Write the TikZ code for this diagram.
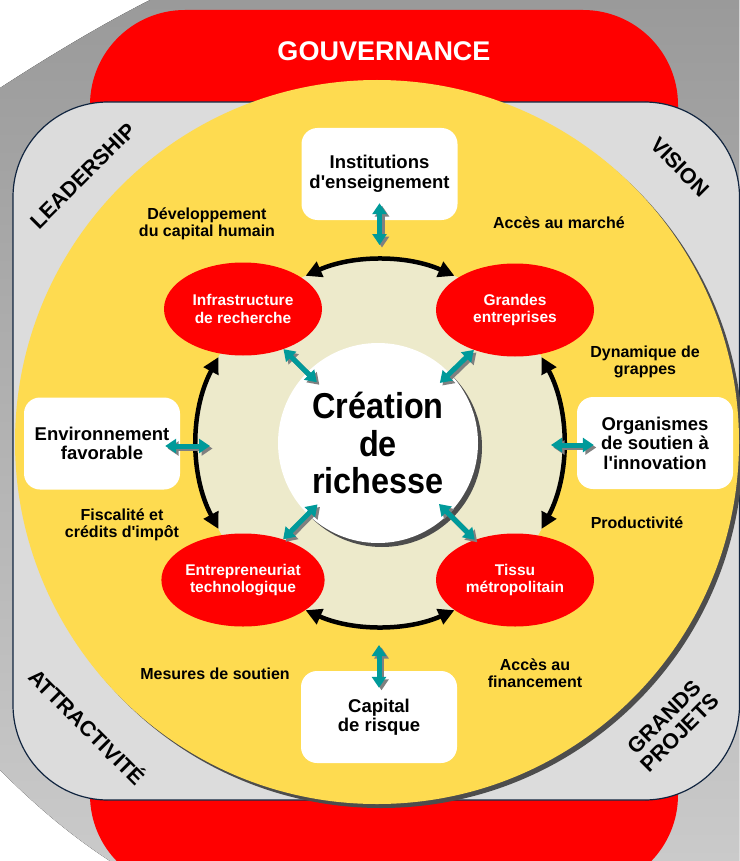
\documentclass[tikz,border=0pt]{standalone}
\usepackage{fontspec}
\setmainfont{Liberation Sans}[Ligatures=TeXOff]
\newfontfamily\condfont{Liberation Sans}[FakeStretch=0.9]
\usetikzlibrary{arrows.meta,shapes.geometric,calc}
\definecolor{bgA}{HTML}{9A9A9A}
\definecolor{bgB}{HTML}{CACACA}
\definecolor{gred}{HTML}{FF0000}
\definecolor{lgray}{HTML}{DCDCDC}
\definecolor{navy}{HTML}{10243F}
\definecolor{gold}{HTML}{FEDB50}
\definecolor{beige}{HTML}{EDEACB}
\definecolor{shgray}{HTML}{4D4D4D}
\definecolor{tealc}{HTML}{009A9A}
\definecolor{tshadow}{HTML}{808080}
\newcommand\tealline[3]{\draw[tshad,#1] #2 -- #3; \draw[tarrow,#1] #2 -- #3;}
\begin{document}
\begin{tikzpicture}[x=1pt,y=-1pt,
  ell/.style={ellipse, fill=gred, minimum width=158pt, minimum height=93pt, inner sep=0pt, text=white, align=center, font=\fontsize{15.5}{17.5}\selectfont\bfseries},
  wbox/.style={rectangle, rounded corners=16pt, fill=white, minimum width=156pt, minimum height=92pt, inner sep=0pt, align=center, font=\fontsize{18.5}{19.5}\selectfont\bfseries},
  lab/.style={align=center, font=\fontsize{16}{16.5}\selectfont\bfseries, inner sep=0pt},
  corner/.style={font=\fontsize{21.5}{22}\selectfont\bfseries, align=center, inner sep=0pt},
  ringarrow/.style={line width=4.5pt, {Triangle[length=16pt,width=16pt]}-{Triangle[length=16pt,width=16pt]}},
  tarrow/.style={line width=5pt, draw=tealc, {Triangle[length=11pt,width=14pt]}-{Triangle[length=11pt,width=14pt]}},
  tshad/.style={line width=5pt, draw=tshadow, {Triangle[length=11pt,width=14pt]}-{Triangle[length=11pt,width=14pt]}, transform canvas={shift={(2.5pt,-2.5pt)}}},
]
\useasboundingbox (0,0) rectangle (739,861);
% background
\fill[white] (0,0) rectangle (739,861);
\fill[top color=bgA, bottom color=bgB] (150,0) -- (739,0) -- (739,861) -- (110,861) .. controls (70,835) and (35,805) .. (0,770) -- (0,88) .. controls (40,62) and (95,28) .. (150,0) -- cycle;
\fill[gred, rounded corners=95pt] (90,10) rectangle (678,890);
\draw[navy, line width=1.2pt, fill=lgray, rounded corners=95pt] (13,102) rectangle (739.5,800);
\fill[shgray] (381,446) circle[radius=362];
\fill[gold] (377,442) circle[radius=362];
\fill[beige] (380,443) circle[radius=183];
\coordinate (O) at (380,443);
% ring arrows
\draw[ringarrow] (O) ++(-114:183) arc[start angle=-114, end angle=-66, radius=183];
\draw[ringarrow] (O) ++(-152:183) arc[start angle=-152, end angle=-208, radius=183];
\draw[ringarrow] (O) ++(-28:183) arc[start angle=-28, end angle=28, radius=183];
\draw[ringarrow] (O) ++(114:183) arc[start angle=114, end angle=66, radius=183];
% ellipses
\node[ell] (infra) at (243,309) {Infrastructure\\de recherche};
\node[ell] (grand) at (515,310) {Grandes\\entreprises};
\node[ell] (entre) at (243,580) {Entrepreneuriat\\technologique};
\node[ell] (tissu) at (515,580) {Tissu\\métropolitain};
% centre
\node[circle, fill=shgray, minimum size=200pt, inner sep=0pt] (ctrsh) at (382,447) {};
\node[circle, fill=white, minimum size=200pt, inner sep=0pt, align=center, font=\condfont\fontsize{36}{37.5}\selectfont\bfseries] (ctr) at (378,443) {Création\\de\\richesse};
% boxes
\node[wbox] (inst) at (379.5,174) {Institutions\\d'enseignement};
\node[wbox] (env) at (102,443.5) {Environnement\\favorable};
\node[wbox] (org) at (655,443) {Organismes\\de soutien à\\l'innovation};
\node[wbox] (cap) at (379,717) {Capital\\de risque};
% labels
\node[lab] (l1) at (207,224) {Développement\\du capital humain};
\node[lab] (l2) at (559,223) {Accès au marché};
\node[lab] (l3) at (645,362) {Dynamique de\\grappes};
\node[lab] (l4) at (637,523) {Productivité};
\node[lab] (l5) at (122,525) {Fiscalité et\\crédits d'impôt};
\node[lab] (l6) at (215,674) {Mesures de soutien};
\node[lab] (l7) at (535,673) {Accès au\\financement};
% corner labels
\node[corner, rotate=45] (lead) at (83,176) {LEADERSHIP};
\node[corner, rotate=-45] (vis) at (680,167) {VISION};
\node[corner, rotate=-45] (attr) at (88,726) {ATTRACTIVITÉ};
\node[corner, rotate=45] (gp) at (672,725) {GRANDS\\PROJETS};
\node[font=\fontsize{27}{28}\selectfont\bfseries, text=white, inner sep=0pt] (gouv) at (384,51) {GOUVERNANCE};
% teal arrows
\coordinate (ta) at (379.5,245);
\coordinate (ba) at (379,645);
\coordinate (la) at (210,446);
\coordinate (ra) at (551,445);
\tealline{shorten <=-17pt}{(inst.south)}{(ta)}
\tealline{shorten <=-17pt}{(cap.north)}{(ba)}
\tealline{shorten <=-15pt}{([yshift=-2.5pt]env.east)}{(la)}
\tealline{shorten <=-17pt}{([yshift=-2pt]org.west)}{(ra)}
\tealline{shorten >=-14pt}{(infra)}{(ctr)}
\tealline{shorten >=-14pt}{(grand)}{(ctr)}
\tealline{shorten >=-14pt}{(entre)}{(ctr)}
\tealline{shorten >=-14pt}{(tissu)}{(ctr)}
\end{tikzpicture}
\end{document}
